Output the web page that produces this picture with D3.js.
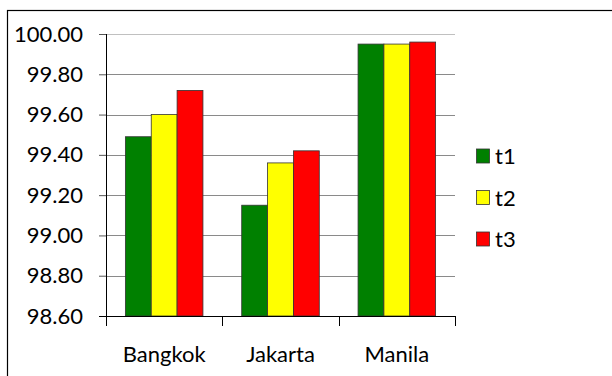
<!DOCTYPE html>
<html><head><meta charset="utf-8">
<script src="https://cdn.jsdelivr.net/npm/d3@7"></script>
<style>body{margin:0;background:#fff}svg{display:block;font-family:Lato,"Open Sans",sans-serif}</style>
</head><body>
<svg id="c" width="612" height="376"></svg>
<script>
const categories = ["Bangkok","Jakarta","Manila"];
const seriesNames = ["t1","t2","t3"];
const t1 = [99.49, 99.15, 99.95];
const t2 = [99.60, 99.36, 99.95];
const t3 = [99.72, 99.42, 99.96];
const yTicks = [98.6, 98.8, 99.0, 99.2, 99.4, 99.6, 99.8, 100.0];
const colors = ["#008000","#ffff00","#ff0000"];
const series = [t1,t2,t3];

const svg = d3.select("#c");
svg.append("rect").attr("x",7.5).attr("y",10.5).attr("width",700).attr("height",500)
  .attr("fill","none").attr("stroke","#000").attr("stroke-width",1.2);

const L=106, R=455, T=34, B=316;
const x = d3.scaleBand().domain(categories).range([L,R]).paddingInner(0).paddingOuter(0);
const y = d3.scaleLinear().domain([98.6,100]).range([B,T]);
const bw = x.bandwidth()/4.5;
const xs = d3.scaleBand().domain(seriesNames).range([0,bw*3]);

// gridlines
svg.append("g").selectAll("line").data(yTicks.slice(1)).join("line")
  .attr("x1",L).attr("x2",R).attr("y1",d=>Math.round(y(d))+0.5).attr("y2",d=>Math.round(y(d))+0.5)
  .attr("stroke",d=>d===100?"#c0c0c0":"#8a8a8a").attr("stroke-width",1);

// bars
const g = svg.append("g");
categories.forEach((c,i)=>{
  series.forEach((s,j)=>{
    g.append("rect")
      .attr("x", x(c)+bw*0.75+xs(seriesNames[j]))
      .attr("y", y(s[i]))
      .attr("width", xs.bandwidth())
      .attr("height", B - y(s[i]))
      .attr("fill", colors[j]).attr("stroke","#333").attr("stroke-width",0.8);
  });
});

// y axis
const ya = svg.append("g").attr("transform",`translate(${L},0)`)
  .call(d3.axisLeft(y).tickValues(yTicks).tickSize(7).tickPadding(16).tickFormat(d3.format(".2f")));
ya.select(".domain").attr("stroke","#000").attr("d",`M0.5,${T}V${B}`);
ya.selectAll(".tick line").attr("stroke","#555");
ya.selectAll("text").attr("font-size",22).attr("fill","#000").attr("font-family","Lato");

// x axis
const xa = svg.append("g").attr("transform",`translate(0,${B})`);
xa.append("line").attr("x1",L-7).attr("x2",R).attr("y1",0.5).attr("y2",0.5).attr("stroke","#000");
const bounds = categories.map(c=>x(c)).concat([R]);
xa.selectAll("line.tk").data(bounds).join("line").attr("class","tk")
  .attr("x1",d=>Math.round(d)+0.5).attr("x2",d=>Math.round(d)+0.5).attr("y1",0).attr("y2",10).attr("stroke","#000");
xa.selectAll("text").data(categories).join("text")
  .attr("x",d=>x(d)+x.bandwidth()/2).attr("y",46).attr("text-anchor","middle")
  .attr("font-size",22).attr("fill","#000").text(d=>d);

// legend
const lg = svg.append("g");
seriesNames.forEach((n,j)=>{
  const cy = 156 + j*41.5;
  lg.append("rect").attr("x",476.5).attr("y",cy-7).attr("width",13).attr("height",14)
    .attr("fill",colors[j]).attr("stroke","#333").attr("stroke-width",0.8);
  lg.append("text").attr("x",495).attr("y",cy+8).attr("font-size",22).attr("fill","#000").text(n);
});
</script>
</body></html>
